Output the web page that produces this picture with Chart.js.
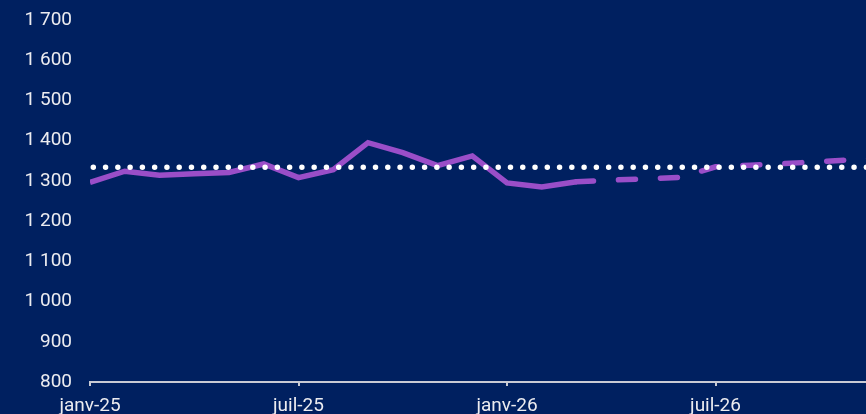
<!DOCTYPE html>
<html lang="fr">
<head>
<meta charset="utf-8">
<script src="https://cdn.jsdelivr.net/npm/chart.js@4/dist/chart.umd.min.js"></script>
<style>
  html, body { margin: 0; padding: 0; background: #002060; overflow: hidden; }
  #wrap { width: 866px; height: 414px; }
</style>
</head>
<body>
<div id="wrap"><canvas id="c" width="866" height="414"></canvas></div>
<script>
// Mois de la période (index 0 = janv-25)
const mois = ['janv-25','févr-25','mars-25','avr-25','mai-25','juin-25','juil-25','août-25','sept-25','oct-25','nov-25','déc-25',
              'janv-26','févr-26','mars-26','avr-26','mai-26','juin-26','juil-26','août-26','sept-26','oct-26','nov-26','déc-26'];

// Série observée : janv-25 à mars-26
const observe = [1296, 1324, 1314, 1318, 1321, 1342, 1308, 1328, 1395, 1370, 1338, 1362, 1295, 1285, 1298];

// Série prévisionnelle : mars-26 à déc-26
const prevision = [1298, 1302, 1305, 1309, 1335, 1339, 1343, 1348, 1353, 1358];
const debutPrevision = 14;

// Niveau moyen de référence
const niveauMoyen = 1334;

// Graduations de l'axe horizontal
const graduationsX = [0, 6, 12, 18];
const etiquettesX = ['janv-25', 'juil-25', 'janv-26', 'juil-26'];

const ptsObserve = observe.map((v, i) => ({ x: i, y: v }));
const ptsPrevision = prevision.map((v, i) => ({ x: debutPrevision + i, y: v }));
const ptsMoyen = [{ x: 0, y: niveauMoyen }, { x: mois.length - 1, y: niveauMoyen }];

const violet = '#9a4ec8';
const fond = '#002060';
const texte = '#ececf0';

const fondPlugin = {
  id: 'fond',
  beforeDraw(chart) {
    const ctx = chart.ctx;
    ctx.save();
    ctx.fillStyle = fond;
    ctx.fillRect(0, 0, chart.width, chart.height);
    ctx.restore();
  }
};

// Séparateur de milliers à la française
const frNombre = v => String(v).replace(/\B(?=(\d{3})+(?!\d))/g, '\u00A0');

new Chart(document.getElementById('c'), {
  type: 'line',
  data: {
    datasets: [
      {
        label: 'Moyenne',
        data: ptsMoyen,
        borderColor: '#ffffff',
        borderWidth: 5.5,
        borderCapStyle: 'round',
        borderDash: [0, 12.27],
        borderDashOffset: -3.3,
        pointRadius: 0,
        order: 0
      },
      {
        label: 'Prévision',
        data: ptsPrevision,
        borderColor: violet,
        borderWidth: 5.5,
        borderCapStyle: 'round',
        borderJoinStyle: 'miter',
        borderDash: [17, 25],
        pointRadius: 0,
        tension: 0,
        order: 1
      },
      {
        label: 'Observé',
        data: ptsObserve,
        borderColor: violet,
        borderWidth: 5.5,
        borderCapStyle: 'butt',
        borderJoinStyle: 'miter',
        pointRadius: 0,
        tension: 0,
        order: 2
      }
    ]
  },
  options: {
    responsive: false,
    animation: false,
    events: [],
    layout: { padding: { left: 24, right: 0, top: 20, bottom: 0 } },
    plugins: { legend: { display: false }, tooltip: { enabled: false } },
    scales: {
      x: {
        type: 'linear',
        min: 0,
        max: 22.33,
        afterBuildTicks(scale) { scale.ticks = graduationsX.map(v => ({ value: v })); },
        afterFit(scale) { scale.height = 32; scale.paddingLeft = 0; scale.paddingRight = 0; },
        ticks: {
          color: texte,
          font: { family: 'Roboto', size: 19 },
          padding: 9,
          maxRotation: 0,
          autoSkip: false,
          callback: v => etiquettesX[graduationsX.indexOf(v)] ?? ''
        },
        grid: { display: true, drawOnChartArea: false, drawTicks: true, tickLength: 4, color: '#c8cad4', lineWidth: 2 },
        border: { display: true, color: '#c8cad4', width: 2 }
      },
      y: {
        min: 800,
        max: 1700,
        afterFit(scale) { scale.width = 66; scale.paddingTop = 0; scale.paddingBottom = 0; },
        ticks: {
          stepSize: 100,
          color: texte,
          font: { family: 'Roboto', size: 19 },
          padding: 18,
          callback: v => frNombre(v)
        },
        grid: { display: false, drawTicks: false },
        border: { display: false }
      }
    }
  },
  plugins: [fondPlugin]
});
</script>
</body>
</html>
